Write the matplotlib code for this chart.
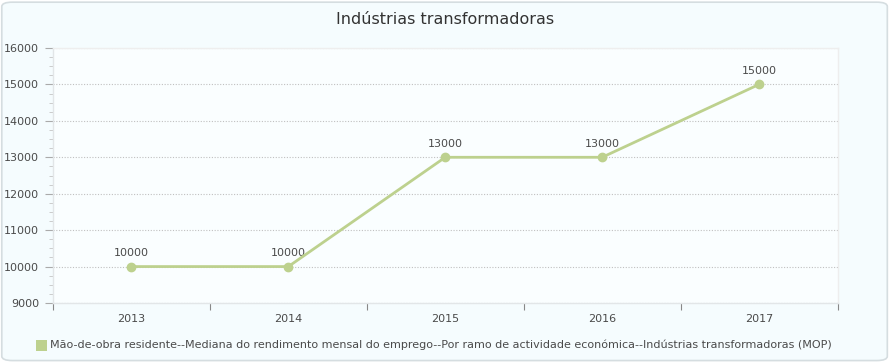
import matplotlib
matplotlib.use("Agg")
import matplotlib.pyplot as plt
from matplotlib.patches import FancyBboxPatch, Rectangle
from matplotlib.ticker import MultipleLocator

years = ["2013", "2014", "2015", "2016", "2017"]
values = [10000, 10000, 13000, 13000, 15000]
series_name = ("Mão-de-obra residente--Mediana do rendimento mensal do emprego--"
               "Por ramo de actividade económica--Indústrias transformadoras (MOP)")
title = "Indústrias transformadoras"

line_color = "#bdd18e"
text_color = "#4a4a4a"

fig = plt.figure(figsize=(8.9, 3.62), dpi=100)
fig.patch.set_facecolor("white")

# rounded background panel
bg = FancyBboxPatch((0.002, 0.004), 0.995, 0.99, boxstyle="round,pad=0,rounding_size=0.012",
                    transform=fig.transFigure, facecolor="#f5fcfe", edgecolor="#d5dde0",
                    linewidth=1.2, zorder=-10)
fig.patches.append(bg)

ax = fig.add_axes([53 / 890, 1 - 303 / 362, (837.5 - 53) / 890, (303 - 48) / 362])
ax.set_facecolor("#fafeff")

x = list(range(len(years)))
ax.plot(x, values, color=line_color, linewidth=2, marker="o", markersize=6,
        markeredgecolor=line_color, zorder=5, clip_on=False)
for xi, v in zip(x, values):
    ax.annotate(str(v), (xi, v), xytext=(0, 6), textcoords="offset points",
                ha="center", va="bottom", fontsize=8, color=text_color)

ax.set_xlim(-0.5, len(years) - 0.5)
ax.set_ylim(9000, 16000)
ax.yaxis.set_major_locator(MultipleLocator(1000))
ax.yaxis.set_minor_locator(MultipleLocator(250))
ax.yaxis.grid(True, which="major", color="#c0c0c0", linestyle=(0, (1, 1.5)), linewidth=0.8)
ax.set_axisbelow(True)

# x ticks at category boundaries, labels at centers
ax.set_xticks([i - 0.5 for i in range(len(years) + 1)])
ax.set_xticklabels([])
ax.set_xticks(x, minor=True)
ax.set_xticklabels(years, minor=True)
ax.tick_params(axis="x", which="major", direction="out", length=5, color="#888888", width=0.8)
ax.tick_params(axis="x", which="minor", length=0, pad=8, labelsize=8, labelcolor=text_color)
ax.tick_params(axis="y", which="major", direction="out", length=6, color="#aaaaaa",
               labelsize=8, labelcolor=text_color, width=0.8, pad=4)
ax.tick_params(axis="y", which="minor", direction="out", length=3, color="#c4c4c4", width=0.6)

for side in ["top", "right"]:
    ax.spines[side].set_color("#eeeeee")
for side in ["left", "bottom"]:
    ax.spines[side].set_color("#e2e6e8")
for s in ax.spines.values():
    s.set_linewidth(1)

fig.text(0.5, 1 - 19 / 362, title, ha="center", va="center", fontsize=11.5, color="#333333")

# legend
fig.patches.append(Rectangle((36 / 890, 1 - 351 / 362), 11 / 890, 11 / 362,
                             transform=fig.transFigure, facecolor=line_color, edgecolor="none"))
fig.text(50 / 890, 1 - 345 / 362, series_name, ha="left", va="center", fontsize=8, color=text_color)

fig.savefig("out.png", dpi=100, facecolor=fig.get_facecolor())
